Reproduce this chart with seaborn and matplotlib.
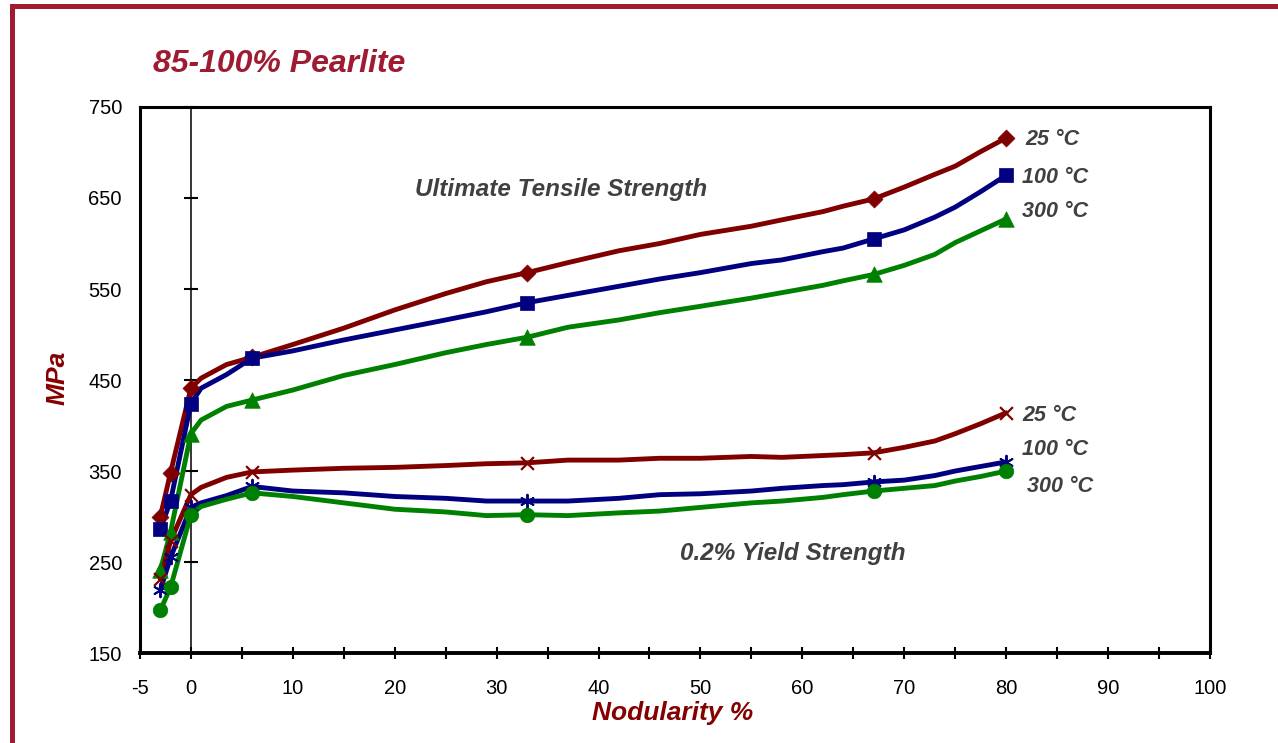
import matplotlib
matplotlib.use("Agg")
import matplotlib.pyplot as plt
from matplotlib.patches import Rectangle
import numpy as np
import pandas as pd
import seaborn as sns

# Nodularity (%) sampled along each curve
nodularity = [-3, -2, 0, 1, 3.5, 6, 10, 15, 20, 25, 29, 33, 37, 42, 46, 50,
              55, 58, 62, 64, 67, 70, 73, 75, 77.5, 80]
# Nodularity values carrying a measured-point marker
marked_nodularity = [-3, -2, 0, 6, 33, 67, 80]

# Ultimate tensile strength (MPa)
uts_25 = [300, 348, 441, 452, 467, 475, 489, 507, 527, 545, 558, 568, 579, 592, 600, 610,
          619, 626, 635, 641, 649, 662, 676, 685, 701, 716]
uts_100 = [286, 317, 424, 441, 456, 474, 482, 494, 505, 516, 525, 535, 543, 553, 561, 568,
           578, 582, 591, 595, 605, 615, 629, 640, 657, 675]
uts_300 = [241, 283, 391, 406, 421, 428, 439, 455, 467, 480, 489, 497, 508, 516, 524, 531,
           540, 546, 554, 559, 566, 576, 588, 601, 614, 627]

# 0.2% yield strength (MPa)
ys_25 = [231, 273, 324, 332, 343, 349, 351, 353, 354, 356, 358, 359, 362, 362, 364, 364,
         366, 365, 367, 368, 370, 376, 383, 391, 402, 414]
ys_100 = [219, 255, 310, 315, 323, 333, 328, 326, 322, 320, 317, 317, 317, 320, 324, 325,
          328, 331, 334, 335, 338, 340, 345, 350, 355, 360]
ys_300 = [197, 222, 302, 311, 319, 326, 322, 315, 308, 305, 301, 302, 301, 304, 306, 310,
          315, 317, 321, 324, 328, 331, 334, 339, 344, 350]

temperatures = ["25 °C", "100 °C", "300 °C"]
x_ticks = list(range(-5, 101, 5))
x_tick_labels = ["-5", "0"] + [str(v) if v % 10 == 0 else "" for v in range(5, 101, 5)]
y_ticks = [150, 250, 350, 450, 550, 650, 750]

DARK_RED = "#800000"
NAVY = "#000080"
GREEN = "#008000"
TITLE_RED = "#9E1B32"
LABEL_RED = "#850000"
GREY = "#404040"

sns.set_theme(style="white")
plt.rcParams["font.family"] = ["Liberation Sans", "DejaVu Sans"]

fig = plt.figure(figsize=(12.78, 7.43), dpi=100)
ax = fig.add_axes([0.1095, 0.1211, 0.8373, 0.7349])

series = [
    (uts_25, DARK_RED, "D", 75, 0),
    (uts_100, NAVY, "s", 100, 0),
    (uts_300, GREEN, "^", 125, 0),
    (ys_25, DARK_RED, "x", 85, 1.6),
    (ys_100, NAVY, (6, 2, 0), 95, 1.4),
    (ys_300, GREEN, "o", 110, 0),
]

for values, color, marker, size, mlw in series:
    df = pd.DataFrame({"nodularity": nodularity, "mpa": values})
    sns.lineplot(data=df, x="nodularity", y="mpa", ax=ax, color=color,
                 linewidth=3.5, sort=True, estimator=None, zorder=3)
    marks = df[df["nodularity"].isin(marked_nodularity)]
    if mlw:
        sns.scatterplot(data=marks, x="nodularity", y="mpa", ax=ax, color=color,
                        marker=marker, s=size, linewidth=mlw, zorder=4)
    else:
        sns.scatterplot(data=marks, x="nodularity", y="mpa", ax=ax, color=color,
                        marker=marker, s=size, edgecolor=color, linewidth=0.5, zorder=4)

ax.set_xlim(-5, 100)
ax.set_ylim(150, 750)

# Frame around the plotting area
for side, spine in ax.spines.items():
    spine.set_visible(True)
    spine.set_color("black")
    spine.set_linewidth(2.2)
ax.spines["bottom"].set_linewidth(2.8)

ax.set_xticks(x_ticks)
ax.set_xticklabels(x_tick_labels)
ax.tick_params(axis="x", direction="inout", length=9, width=1.5, color="black",
               labelsize=14.5, labelcolor="black", pad=14, bottom=True)
ax.set_yticks(y_ticks)
ax.tick_params(axis="y", length=0, labelsize=14.5, labelcolor="black", pad=13, left=True)

# Value axis crossing the category axis at nodularity 0
cross = ax.secondary_yaxis(5 / 105)
cross.set_yticks(y_ticks)
cross.spines["left"].set_linewidth(1.1)
cross.spines["left"].set_color("black")
cross.tick_params(axis="y", direction="inout", length=9.4, width=1.5, color="black",
                  labelleft=False, labelright=False, left=True)

ax.set_xlabel("Nodularity %", fontsize=19, fontweight="bold", fontstyle="italic",
              color=LABEL_RED)
ax.xaxis.set_label_coords(0.498, -0.088)
ax.set_ylabel("MPa", fontsize=19, fontweight="bold", fontstyle="italic", color=LABEL_RED)
ax.yaxis.set_label_coords(-0.0654, 0.504)

note = dict(fontsize=17.5, fontweight="bold", fontstyle="italic", color=GREY,
            ha="left", va="center")
ax.text(22.0, 659, "Ultimate Tensile Strength", **note)
ax.text(48.0, 259, "0.2% Yield Strength", **note)

temp = dict(fontsize=15.5, fontweight="bold", fontstyle="italic", color=GREY,
            ha="left", va="center")
for label, (tx, ty) in zip(temperatures, [(81.9, 714.8), (81.6, 672), (81.6, 635.7)]):
    ax.text(tx, ty, label, **temp)
for label, (tx, ty) in zip(temperatures, [(81.6, 411.5), (81.6, 374), (82.0, 333.5)]):
    ax.text(tx, ty, label, **temp)

fig.text(153 / 1278, 1 - 72 / 743, "85-100% Pearlite", fontsize=23, fontweight="bold",
         fontstyle="italic", color=TITLE_RED, ha="left", va="baseline")

# Slide border (top and left edges)
W, H = 1278, 743
fig.add_artist(Rectangle((10 / W, 1 - 9 / H), 1 - 10 / W, 5 / H,
                         transform=fig.transFigure, facecolor=TITLE_RED,
                         edgecolor="none"))
fig.add_artist(Rectangle((10 / W, 0), 5 / W, 1 - 4 / H,
                         transform=fig.transFigure, facecolor=TITLE_RED,
                         edgecolor="none"))

fig.savefig("out.png", dpi=100, facecolor="white")
